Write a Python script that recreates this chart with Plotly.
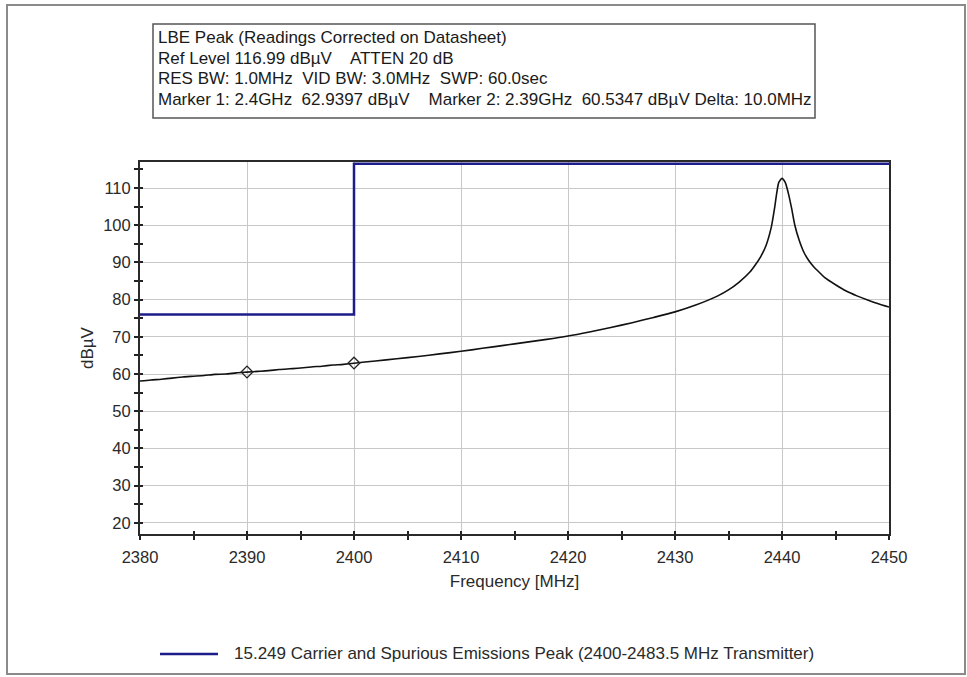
import plotly.graph_objects as go

# Measured spectrum (frequency in MHz, level in dBµV)
freq_mhz = [2380, 2381, 2382, 2383, 2384, 2385, 2386, 2387, 2388, 2389,
            2390, 2391, 2392, 2393, 2394, 2395, 2396, 2397, 2398, 2399,
            2400, 2402, 2404, 2406, 2408, 2410, 2412, 2414, 2416, 2418,
            2420, 2422, 2424, 2426, 2428, 2430, 2432, 2434, 2435, 2436,
            2437, 2437.5, 2438, 2438.5, 2439, 2439.3, 2439.5, 2439.7, 2440,
            2440.3, 2440.6, 2440.9, 2441.2, 2441.6, 2442, 2442.5, 2443,
            2443.5, 2444, 2445, 2446, 2447, 2448, 2449, 2450]
level_dbuv = [58.1, 58.4, 58.6, 58.9, 59.2, 59.4, 59.6, 59.9, 60.0, 60.3,
              60.5, 60.7, 60.9, 61.2, 61.4, 61.6, 61.9, 62.1, 62.4, 62.6,
              62.9, 63.5, 64.1, 64.7, 65.4, 66.1, 66.9, 67.7, 68.5, 69.3,
              70.2, 71.3, 72.5, 73.8, 75.2, 76.7, 78.6, 81.0, 82.6, 84.7,
              87.4, 89.3, 91.5, 94.5, 99.5, 104.5, 108.5, 111.5, 112.6,
              111.5, 108.5, 104.5, 100.0, 96.0, 93.0, 90.5, 88.7,
              87.3, 85.9, 84.0, 82.3, 81.0, 79.9, 78.9, 78.0]

# 15.249 limit line (step)
limit_freq = [2380, 2400, 2450]
limit_level = [76, 116.5, 116.5]
limit_name = "15.249 Carrier and Spurious Emissions Peak (2400-2483.5 MHz Transmitter)"

# Markers
marker_freq = [2400, 2390]
marker_level = [62.9397, 60.5347]

header_lines = [
    "LBE Peak (Readings Corrected on Datasheet)",
    "Ref Level 116.99 dBµV    ATTEN 20 dB",
    "RES BW: 1.0MHz  VID BW: 3.0MHz  SWP: 60.0sec",
    "Marker 1: 2.4GHz  62.9397 dBµV    Marker 2: 2.39GHz  60.5347 dBµV Delta: 10.0MHz",
]

x_range = [2380, 2450]
y_range = [16.99, 116.99]

W, H = 967, 677
L, R, T, B = 140, 78, 162, 143
PW, PH = W - L - R, H - T - B


def px(x):
    return (x - L) / PW


def py(y):
    return (H - B - y) / PH


FONT = "Liberation Sans, Arial, sans-serif"
BLUE = "#1c1c8a"
TXT = "#2a2a2a"

fig = go.Figure()

fig.add_trace(go.Scatter(
    x=limit_freq, y=limit_level, mode="lines", line_shape="hv",
    line=dict(color=BLUE, width=2.5), name=limit_name, showlegend=False,
))
fig.add_trace(go.Scatter(
    x=freq_mhz, y=level_dbuv, mode="lines",
    line=dict(color="#111111", width=1.6, shape="spline", smoothing=0.6),
    showlegend=False,
))
fig.add_trace(go.Scatter(
    x=marker_freq, y=marker_level, mode="markers",
    marker=dict(symbol="diamond-open", size=9, color="#222222",
                line=dict(width=1.3, color="#222222")),
    showlegend=False,
))
# helper trace so the tick overlay axes render
fig.add_trace(go.Scatter(x=[x_range[0]], y=[y_range[0]], xaxis="x2", yaxis="y2",
                         mode="markers", marker=dict(opacity=0), showlegend=False,
                         hoverinfo="skip"))

axis_common = dict(
    showline=True, linecolor="#2a2a2a", linewidth=2, mirror=True,
    gridcolor="#c8c8c8", gridwidth=1, zeroline=False,
    ticks="outside", ticklen=4, tickwidth=1.5, tickcolor="#222222",
    tickfont=dict(family=FONT, size=16.5, color=TXT),
)

fig.update_layout(
    width=W, height=H,
    margin=dict(l=L, r=R, t=T, b=B),
    paper_bgcolor="white", plot_bgcolor="white",
    xaxis=dict(range=x_range, dtick=10, tick0=2380, ticklabelstandoff=3,
               minor=dict(dtick=5, ticks="outside", ticklen=4, tickwidth=1.5,
                          tickcolor="#222222", showgrid=False),
               title=dict(text="Frequency [MHz]", standoff=10,
                          font=dict(family=FONT, size=17, color=TXT)),
               **axis_common),
    yaxis=dict(range=y_range, tickvals=[20, 30, 40, 50, 60, 70, 80, 90, 100, 110],
               minor=dict(tickvals=[25, 35, 45, 55, 65, 75, 85, 95, 105, 115],
                          ticks="outside", ticklen=4, tickwidth=1.5,
                          tickcolor="#222222", showgrid=False),
               title=dict(text="dBµV", standoff=5,
                          font=dict(family=FONT, size=17, color=TXT)),
               **axis_common),
    xaxis2=dict(range=x_range, overlaying="x", dtick=5, tick0=2380, ticks="inside",
                ticklen=3, tickwidth=1.5, tickcolor="#222222", showticklabels=False,
                showgrid=False, zeroline=False, showline=False),
    yaxis2=dict(range=y_range, overlaying="y", dtick=5, tick0=20, ticks="inside",
                ticklen=3, tickwidth=1.5, tickcolor="#222222", showticklabels=False,
                showgrid=False, zeroline=False, showline=False),
    showlegend=False,
)

shapes = [
    # header box
    dict(type="rect", xref="paper", yref="paper",
         x0=px(153), x1=px(815), y0=py(24), y1=py(118),
         line=dict(color="#555555", width=1.5), fillcolor="white", layer="above"),
    # page frame
    dict(type="rect", xref="paper", yref="paper",
         x0=px(7), x1=px(965), y0=py(5), y1=py(674),
         line=dict(color="#8a8a8a", width=2), layer="below"),
    # legend swatch for the limit line
    dict(type="line", xref="paper", yref="paper",
         x0=px(160), x1=px(218), y0=py(654), y1=py(654),
         line=dict(color=BLUE, width=2.5)),
]
fig.update_layout(shapes=shapes)

fig.add_annotation(x=px(232), y=py(653), xref="paper", yref="paper",
                   text=limit_name, showarrow=False, xanchor="left", yanchor="middle",
                   font=dict(family=FONT, size=17, color=TXT))

line_y = [37, 58, 79, 100]
for txt, yy in zip(header_lines, line_y):
    fig.add_annotation(x=px(156), y=py(yy), xref="paper", yref="paper",
                       text=txt, showarrow=False, xanchor="left", yanchor="middle",
                       font=dict(family=FONT, size=17, color="#1a1a1a"))

fig.write_html("out.html")
